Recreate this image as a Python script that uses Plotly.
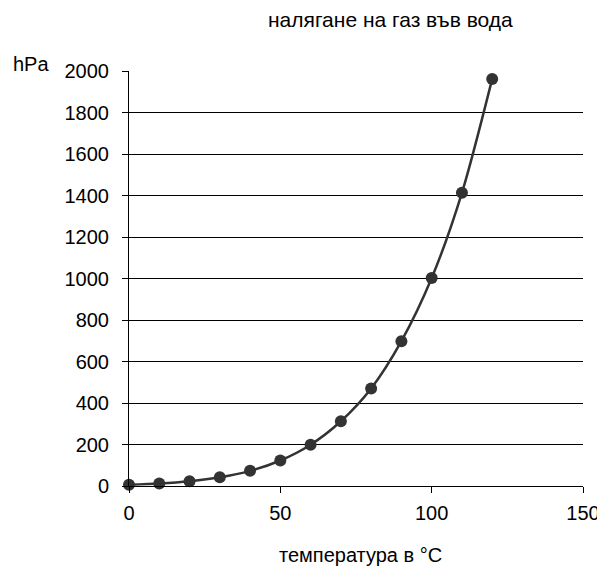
import plotly.graph_objects as go

temperature = [0, 10, 20, 30, 40, 50, 60, 70, 80, 90, 100, 110, 120]
pressure = [6, 12, 23, 42, 73, 123, 199, 312, 470, 698, 1002, 1413, 1962]

x_ticks = [0, 50, 100, 150]
y_ticks = [0, 200, 400, 600, 800, 1000, 1200, 1400, 1600, 1800, 2000]

title_text = "налягане на газ във вода"
y_unit = "hPa"
x_title = "температура в °C"

font = "Liberation Sans, Arial, sans-serif"

fig = go.Figure()
fig.add_trace(go.Scatter(
    x=temperature, y=pressure,
    mode="lines+markers",
    line=dict(color="#333333", width=2.5, shape="spline", smoothing=0.8),
    marker=dict(color="#333333", size=12),
    showlegend=False,
    cliponaxis=False,
))

fig.update_layout(
    width=605, height=567,
    margin=dict(l=121, r=30, t=63, b=89),
    paper_bgcolor="white", plot_bgcolor="white",
    font=dict(family=font, color="black", size=20),
    xaxis=dict(range=[0, 150], tickvals=x_ticks, showgrid=False,
               showline=True, linecolor="black", linewidth=1,
               ticks="outside", ticklen=6, tickcolor="black",
               ticklabelstandoff=3, zeroline=False),
    yaxis=dict(range=[0, 2000], tickvals=y_ticks, showgrid=True,
               gridcolor="black", gridwidth=1,
               showline=True, linecolor="black", linewidth=1,
               ticks="outside", ticklen=6, tickcolor="black",
               ticklabelstandoff=9, zeroline=False),
    annotations=[
        dict(text=title_text, x=0.575, y=1.123, xref="paper", yref="paper",
             showarrow=False, xanchor="center", yanchor="middle",
             font=dict(size=21, family=font, color="black")),
        dict(text=y_unit, x=-0.216, y=1.018, xref="paper", yref="paper",
             showarrow=False, xanchor="center", yanchor="middle",
             font=dict(size=20, family=font, color="black")),
        dict(text=x_title, x=0.51, y=-0.166, xref="paper", yref="paper",
             showarrow=False, xanchor="center", yanchor="middle",
             font=dict(size=20, family=font, color="black")),
    ],
)

fig.write_html("out.html")
